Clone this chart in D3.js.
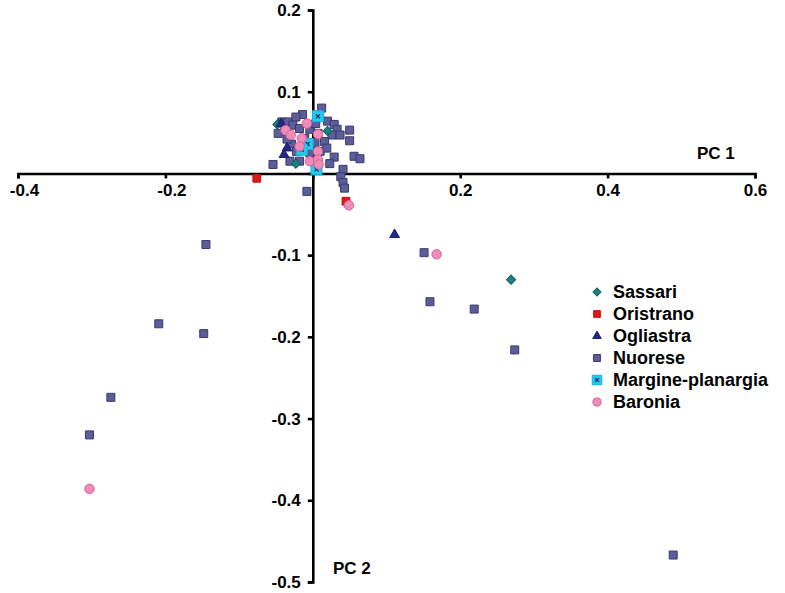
<!DOCTYPE html>
<html>
<head>
<meta charset="utf-8">
<script src="https://cdn.jsdelivr.net/npm/d3@7"></script>
<style>
	body { margin: 0; background: #fff; }
	text { font-family: "Liberation Sans", Arial, sans-serif; font-weight: bold; }
</style>
</head>
<body>
<script>
var width = 785, height = 593;

// scores on PC 1 / PC 2
var groups = ["Sassari", "Oristrano", "Ogliastra", "Nuorese", "Margine-planargia", "Baronia"];
var sassari = [[-0.023, 0.012], [0.020, 0.052], [-0.048, 0.060], [0.269, -0.130]];
var oristrano = [[-0.076, -0.006], [0.045, -0.034]];
var ogliastra = [[-0.043, 0.061], [-0.035, 0.031], [-0.039, 0.023], [0.111, -0.075]];
var nuorese = [[0.012, 0.080], [-0.014, 0.072], [-0.023, 0.069], [-0.042, 0.063], [-0.034, 0.063],
	[-0.027, 0.059], [-0.018, 0.055], [-0.004, 0.054], [0.004, 0.061], [0.020, 0.064],
	[0.029, 0.060], [0.033, 0.054], [0.026, 0.047], [0.037, 0.047], [0.050, 0.053],
	[0.050, 0.040], [0.016, 0.039], [0.003, 0.038], [-0.029, 0.036], [-0.022, 0.027],
	[-0.004, 0.025], [0.010, 0.027], [0.019, 0.031], [0.029, 0.020], [0.056, 0.021],
	[0.064, 0.018], [-0.054, 0.011], [-0.031, 0.015], [-0.018, 0.015], [0.041, 0.005],
	[0.038, -0.004], [0.041, -0.011], [0.043, -0.018], [-0.008, -0.022], [-0.038, 0.054],
	[-0.047, 0.049], [-0.011, 0.043], [0.007, 0.049], [-0.035, 0.042], [0.023, 0.012],
	[0.489, -0.467], [-0.274, -0.274], [-0.303, -0.320], [-0.145, -0.087], [-0.209, -0.184],
	[-0.148, -0.196], [0.151, -0.097], [0.159, -0.157], [0.219, -0.166], [0.274, -0.216]];
var margine = [[0.007, 0.070], [-0.007, 0.036], [-0.015, 0.029], [0.005, 0.005]];
var baronia = [[-0.008, 0.061], [-0.037, 0.053], [0.007, 0.048], [-0.015, 0.043], [-0.018, 0.033],
	[0.007, 0.027], [-0.004, 0.015], [0.007, 0.017], [0.008, 0.011], [-0.030, 0.047],
	[0.049, -0.039], [0.168, -0.099], [-0.303, -0.386]];

var xTicks = [-0.4, -0.2, 0, 0.2, 0.4, 0.6];
var yTicks = [0.2, 0.1, 0, -0.1, -0.2, -0.3, -0.4, -0.5];

var x = d3.scaleLinear().domain([-0.4, 0.6]).range([18, 755]);
var y = d3.scaleLinear().domain([-0.5, 0.2]).range([582, 10]);

var svg = d3.select("body").append("svg").attr("width", width).attr("height", height);

function fmt(d) { return d === 0 ? "" : d.toFixed(1); }

var xAxis = svg.append("g")
	.attr("transform", "translate(0," + y(0) + ")")
	.call(d3.axisBottom(x).tickValues(xTicks).tickSize(5).tickPadding(6).tickFormat(fmt));

xAxis.selectAll("text").attr("dx", function(d){ return d < 0 ? 6 : 0; });

var yAxis = svg.append("g")
	.attr("transform", "translate(" + x(0) + ",0)")
	.call(d3.axisLeft(y).tickValues(yTicks).tickSize(5).tickPadding(7).tickFormat(fmt));

svg.selectAll(".domain, .tick line").attr("stroke", "#000").attr("stroke-width", 2.6);
svg.selectAll(".tick text").attr("fill", "#000").style("font-size", "17px");

svg.append("text").attr("x", 697).attr("y", 159).style("font-size", "17px").text("PC 1");
svg.append("text").attr("x", 333).attr("y", 574).style("font-size", "17px").text("PC 2");

// marker drawing per group
var styles = {
	"Sassari": {sym: d3.symbolSquare, size: 42, rot: 45, fill: "#1c8080", stroke: "#146060"},
	"Oristrano": {sym: d3.symbolSquare, size: 60, rot: 0, fill: "#e01818", stroke: "#c01010"},
	"Ogliastra": {sym: d3.symbolTriangle, size: 42, rot: 0, fill: "#1f2a80", stroke: "#1a2070"},
	"Nuorese": {sym: d3.symbolSquare, size: 64, rot: 0, fill: "#5d5d99", stroke: "#3a3a70"},
	"Margine-planargia": {sym: d3.symbolSquare, size: 121, rot: 0, fill: "#22ccee", stroke: "#18b0dd"},
	"Baronia": {sym: d3.symbolCircle, size: 70, rot: 0, fill: "#f08cb8", stroke: "#d8609a"}
};

function drawGroup(name, data) {
	var st = styles[name];
	var g = svg.append("g").attr("class", "pts");
	var pts = g.selectAll("g").data(data).enter().append("g")
		.attr("transform", function(d){ return "translate(" + x(d[0]) + "," + y(d[1]) + ")"; });
	pts.append("path")
		.attr("d", d3.symbol().type(st.sym).size(st.size))
		.attr("transform", "rotate(" + st.rot + ")")
		.attr("fill", st.fill)
		.attr("stroke", st.stroke)
		.attr("stroke-width", 1);
	if (name === "Margine-planargia") {
		pts.append("path").attr("d", "M-2,-2L2,2M2,-2L-2,2").attr("stroke", "#203070").attr("stroke-width", 1.2);
	}
}

drawGroup("Nuorese", nuorese);
drawGroup("Sassari", sassari);
drawGroup("Oristrano", oristrano);
drawGroup("Ogliastra", ogliastra);
drawGroup("Margine-planargia", margine);
drawGroup("Baronia", baronia);

// legend
var leg = svg.append("g").attr("transform", "translate(597,292)");
var rows = leg.selectAll("g").data(groups).enter().append("g")
	.attr("transform", function(d, i){ return "translate(0," + (i * 22) + ")"; });
rows.append("path")
	.attr("d", function(d){ return d3.symbol().type(styles[d].sym).size(styles[d].size * 0.75)(); })
	.attr("transform", function(d){ return "rotate(" + styles[d].rot + ")"; })
	.attr("fill", function(d){ return styles[d].fill; })
	.attr("stroke", function(d){ return styles[d].stroke; });
rows.filter(function(d){ return d === "Margine-planargia"; }).append("path")
	.attr("d", "M-2,-2L2,2M2,-2L-2,2").attr("stroke", "#203070").attr("stroke-width", 1.2);
rows.append("text")
	.attr("x", 16).attr("dy", "0.35em")
	.style("font-size", "18px")
	.text(function(d){ return d; });
</script>
</body>
</html>
